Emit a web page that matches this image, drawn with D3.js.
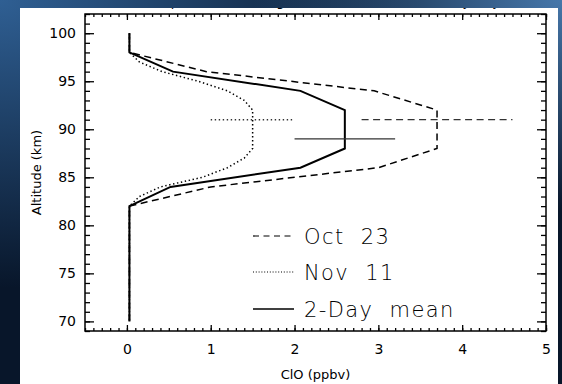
<!DOCTYPE html>
<html lang="en">
<head>
<meta charset="utf-8">
<title>ClO profiles</title>
<script src="https://cdn.jsdelivr.net/npm/d3@7"></script>
<style>
body { margin: 0; background: #0a1a30; }
svg { display: block; }
text { font-family: "DejaVu Sans", "Liberation Sans", sans-serif; fill: #000; }
</style>
</head>
<body>
<script>
// altitude grids (km)
var alt2km = [100, 98, 96, 94, 92, 90, 88, 86, 84, 82, 80, 78, 76, 74, 72, 70];
var alt1km = [100, 99, 98, 97, 96, 95, 94, 93, 92, 91, 90, 89, 88, 87, 86, 85, 84, 83, 82,
              81, 80, 79, 78, 77, 76, 75, 74, 73, 72, 71, 70];

// ClO mixing ratio (ppbv)
var oct23 = [0.03, 0.03, 0.95, 2.95, 3.7, 3.7, 3.7, 3.0, 1.0, 0.03, 0.03, 0.03, 0.03, 0.03, 0.03, 0.03];
var nov11 = [0.03, 0.03, 0.03, 0.15, 0.42, 0.85, 1.2, 1.4, 1.5, 1.5, 1.5, 1.5, 1.5, 1.4, 1.2, 0.9,
             0.4, 0.15, 0.03, 0.03, 0.03, 0.03, 0.03, 0.03, 0.03, 0.03, 0.03, 0.03, 0.03, 0.03, 0.03];
var mean2day = [0.03, 0.03, 0.55, 2.07, 2.6, 2.6, 2.6, 2.07, 0.52, 0.03, 0.03, 0.03, 0.03, 0.03, 0.03, 0.03];

// error bars
var errNames = ["Oct 23", "Nov 11", "2-Day mean"];
var errAlt = [91, 91, 89];
var errCenter = [3.7, 1.5, 2.6];
var errHalf = [0.9, 0.5, 0.6];

var legendNames = ["Oct 23", "Nov 11", "2-Day mean"];

var W = 562, H = 384;
var pL = 85, pR = 546, pT = 14, pB = 331;

var svg = d3.select("body").append("svg")
    .attr("width", W)
    .attr("height", H);

var defs = svg.append("defs");
var g1 = defs.append("radialGradient").attr("id", "glowL")
    .attr("cx", 0).attr("cy", 0).attr("r", 0.75);
g1.append("stop").attr("offset", "0%").attr("stop-color", "#2f5f93");
g1.append("stop").attr("offset", "100%").attr("stop-color", "#2f5f93").attr("stop-opacity", 0);
var g2 = defs.append("radialGradient").attr("id", "glowR")
    .attr("cx", 1).attr("cy", 0).attr("r", 0.55);
g2.append("stop").attr("offset", "0%").attr("stop-color", "#4677aa");
g2.append("stop").attr("offset", "100%").attr("stop-color", "#4677aa").attr("stop-opacity", 0);
defs.append("clipPath").attr("id", "panel")
    .append("rect").attr("x", 20).attr("y", 8).attr("width", 538).attr("height", 376);

svg.append("rect").attr("width", W).attr("height", H).attr("fill", "#08162a");
svg.append("rect").attr("width", W).attr("height", H).attr("fill", "url(#glowL)");
svg.append("rect").attr("width", W).attr("height", H).attr("fill", "url(#glowR)");
svg.append("rect").attr("x", 20).attr("y", 8).attr("width", 538).attr("height", 376).attr("fill", "#fff");

// title, mostly hidden above the panel
svg.append("text")
    .attr("clip-path", "url(#panel)")
    .attr("x", 315).attr("y", 6)
    .attr("text-anchor", "middle")
    .attr("font-size", 13)
    .text("Mesospheric ClO during Leonids (Oct 23, Nov 11) by Day");

var x = d3.scaleLinear().domain([-0.5, 5]).range([pL, pR]);
var y = d3.scaleLinear().domain([69, 102]).range([pB, pT]);

var xMajor = d3.range(0, 5.01, 1);
var xMinor = d3.range(-0.5, 5.001, 0.1);
var yMajor = d3.range(70, 100.1, 5);
var yMinor = d3.range(69, 102.1, 1);

function styleAxis(sel) {
    sel.selectAll(".domain").remove();
    sel.selectAll("line").attr("stroke", "#000").attr("stroke-width", 1.3);
    sel.selectAll("text").attr("font-size", 14).attr("fill", "#000");
}

// bottom
svg.append("g").attr("transform", "translate(0," + pB + ")")
    .call(d3.axisBottom(x).tickValues(xMinor).tickFormat("").tickSizeInner(-3).tickSizeOuter(0)).call(styleAxis);
svg.append("g").attr("transform", "translate(0," + pB + ")")
    .call(d3.axisBottom(x).tickValues(xMajor).tickFormat(d3.format("d")).tickSizeInner(-6).tickSizeOuter(0).tickPadding(13)).call(styleAxis);
// top
svg.append("g").attr("transform", "translate(0," + pT + ")")
    .call(d3.axisTop(x).tickValues(xMinor).tickFormat("").tickSizeInner(-3).tickSizeOuter(0)).call(styleAxis);
svg.append("g").attr("transform", "translate(0," + pT + ")")
    .call(d3.axisTop(x).tickValues(xMajor).tickFormat("").tickSizeInner(-6).tickSizeOuter(0)).call(styleAxis);
// left
svg.append("g").attr("transform", "translate(" + pL + ",0)")
    .call(d3.axisLeft(y).tickValues(yMinor).tickFormat("").tickSizeInner(-5).tickSizeOuter(0)).call(styleAxis);
svg.append("g").attr("transform", "translate(" + pL + ",0)")
    .call(d3.axisLeft(y).tickValues(yMajor).tickFormat(d3.format("d")).tickSizeInner(-9).tickSizeOuter(0).tickPadding(9)).call(styleAxis);
// right
svg.append("g").attr("transform", "translate(" + pR + ",0)")
    .call(d3.axisRight(y).tickValues(yMinor).tickFormat("").tickSizeInner(-5).tickSizeOuter(0)).call(styleAxis);
svg.append("g").attr("transform", "translate(" + pR + ",0)")
    .call(d3.axisRight(y).tickValues(yMajor).tickFormat("").tickSizeInner(-9).tickSizeOuter(0)).call(styleAxis);

svg.append("rect")
    .attr("x", pL).attr("y", pT)
    .attr("width", pR - pL).attr("height", pB - pT)
    .attr("fill", "none").attr("stroke", "#000").attr("stroke-width", 1.5);

// axis titles
svg.append("text")
    .attr("x", (pL + pR) / 2).attr("y", 379)
    .attr("text-anchor", "middle").attr("font-size", 13)
    .text("ClO (ppbv)");
svg.append("text")
    .attr("transform", "translate(41," + ((pT + pB) / 2) + ") rotate(-90)")
    .attr("text-anchor", "middle").attr("font-size", 13)
    .text("Altitude (km)");

// profiles
var line = d3.line()
    .x(function(d) { return x(d[0]); })
    .y(function(d) { return y(d[1]); });

var styles = [
    { dash: "7,4.5", width: 1.5 },
    { dash: "1.4,2.6", width: 1.5 },
    { dash: null, width: 2 }
];

var profiles = [
    d3.zip(oct23, alt2km),
    d3.zip(nov11, alt1km),
    d3.zip(mean2day, alt2km)
];

profiles.forEach(function(p, i) {
    svg.append("path")
        .datum(p)
        .attr("d", line)
        .attr("fill", "none")
        .attr("stroke", "#000")
        .attr("stroke-width", styles[i].width)
        .attr("stroke-dasharray", styles[i].dash);
});

// error bars
errNames.forEach(function(n, i) {
    svg.append("line")
        .attr("x1", x(errCenter[i] - errHalf[i]))
        .attr("x2", x(errCenter[i] + errHalf[i]))
        .attr("y1", y(errAlt[i]))
        .attr("y2", y(errAlt[i]))
        .attr("stroke", "#333")
        .attr("stroke-width", i == 1 ? 1.5 : 1.3)
        .attr("stroke-dasharray", styles[i].dash);
});

// legend
var legY = [236, 272, 309];
var legDash = ["6,4.5", "1,1.8", null];
legendNames.forEach(function(n, i) {
    svg.append("line")
        .attr("x1", 253).attr("x2", 294)
        .attr("y1", legY[i]).attr("y2", legY[i])
        .attr("stroke", "#000")
        .attr("stroke-width", i == 2 ? 1.5 : 1.2)
        .attr("stroke-dasharray", legDash[i]);
    svg.append("text")
        .attr("x", 304).attr("y", legY[i] + 7.5)
        .attr("font-size", 21)
        .attr("font-weight", 300)
        .attr("letter-spacing", 1.4)
        .style("white-space", "pre")
        .text(n.replace(" ", "  "));
});
</script>
</body>
</html>
